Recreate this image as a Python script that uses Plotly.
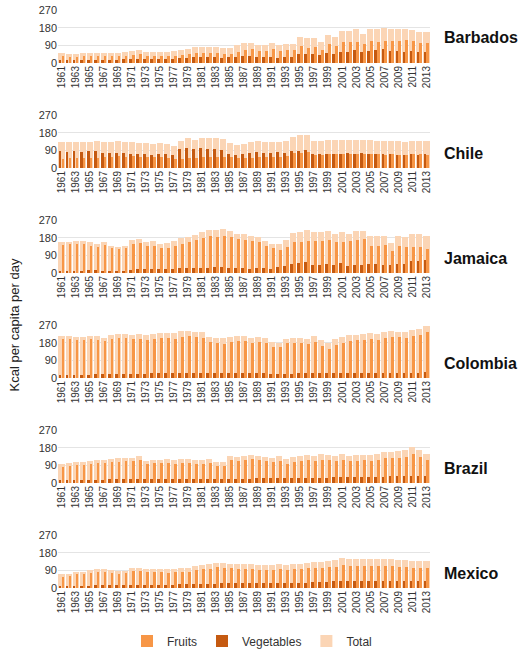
import plotly.graph_objects as go

years = list(range(1961, 2014))
countries = ["Barbados", "Chile", "Jamaica", "Colombia", "Brazil", "Mexico"]

barbados_veg = [15,14,14,15,15,15,15,16,16,18, 20,20,20,18,20,22,22,25,28,30, 32,30,30,28,30,32,34,34,30,30,
                32,28,30,32,45,48,45,40,50,45, 58,55,65,55,62,65,70,60,62,58,60,58,56]
barbados_fruit = [35,33,33,34,34,34,34,35,36,38, 42,44,38,36,36,36,38,42,45,50, 50,50,50,48,48,58,68,70,62,60,
                  72,62,65,65,85,78,80,65,95,85, 105,108,108,95,110,108,110,112,112,115,110,100,100]
barbados_total = [50,47,47,49,49,49,49,51,52,56, 62,64,58,54,56,58,60,67,73,80, 82,80,80,76,78,90,102,104,92,90,
                  104,90,95,97,130,126,125,105,145,130, 163,163,173,150,172,173,180,172,174,173,170,158,156]

chile_veg = [85,80,85,82,85,85,78,75,75,75, 72,70,70,68,70,70,65,95,100,95, 100,95,95,92,70,68,72,78,82,75,
             78,80,78,85,88,90,72,70,72,70, 72,75,72,75,72,70,72,70,68,65,70,68,72]
chile_fruit = [48,50,50,50,50,52,55,55,62,58, 60,58,55,55,55,52,45,45,52,50, 55,58,58,55,55,50,50,52,58,58,
               55,55,60,75,78,80,68,68,70,72, 72,70,72,70,72,70,68,70,68,65,70,72,68]
chile_total = [133,130,135,132,135,137,133,130,137,133, 132,128,125,123,125,122,110,140,152,145,
               155,153,153,147,125,118,122,130,140,133, 133,135,138,160,166,170,140,138,142,142,
               144,145,144,145,144,140,140,140,136,130,140,140,140]

jamaica_veg = [10,8,10,12,14,14,12,10,8,10, 15,18,18,20,20,22,22,25,25,25, 28,25,30,32,28,25,25,22,25,25,
               22,30,38,45,50,55,42,40,45,40, 50,35,42,42,45,48,42,40,45,45,62,62,66]
jamaica_fruit = [145,150,150,150,140,135,145,125,120,128, 150,155,140,140,128,128,140,150,158,168,
                 180,190,185,190,182,172,170,165,158,138, 125,118,130,158,158,162,165,165,168,158,
                 158,162,170,172,140,140,145,112,140,135,135,135,122]
jamaica_total = [157,160,162,164,156,150,158,137,130,140, 168,175,160,162,150,152,164,177,185,195,
                 210,218,217,223,212,200,198,190,185,165, 150,150,168,205,210,219,210,207,215,200,
                 210,200,214,216,187,190,188,155,187,182,199,199,190]

colombia_veg = [15,15,15,15,16,18,18,20,20,20, 22,22,22,24,25,25,28,28,28,28, 28,26,26,28,28,28,26,26,25,25,
                22,20,20,22,24,26,28,28,28,28, 28,28,28,28,28,28,28,28,28,28,28,28,30]
colombia_fruit = [200,198,196,194,198,196,188,200,202,205, 198,200,196,200,202,205,200,210,212,208,
                  205,185,180,175,182,188,190,180,185,180, 160,160,178,180,178,172,185,165,150,170,
                  180,190,192,195,200,195,205,210,208,205,215,220,235]
colombia_total = [215,213,211,209,214,214,206,220,222,225, 220,222,218,224,227,230,228,238,240,236,
                  233,211,206,203,210,216,216,206,210,205, 182,180,198,202,202,198,213,193,178,198,
                  208,218,220,223,228,223,233,238,236,233,243,248,265]

brazil_veg = [15,15,15,16,16,16,17,18,18,18, 18,20,18,18,18,18,20,20,20,20, 20,20,20,20,22,22,22,22,24,24,
              24,24,25,25,26,26,28,28,28,30, 30,30,30,30,32,32,32,34,34,35,36,35,34]
brazil_fruit = [82,88,92,92,95,100,100,105,108,110, 110,118,95,100,100,102,98,100,100,98,
                98,100,88,85,115,110,118,120,115,110, 105,112,98,108,112,118,112,118,115,110,
                118,110,112,115,112,118,125,125,128,132,146,135,115]
brazil_total = [97,103,107,108,111,116,117,123,126,128, 128,138,113,118,118,120,118,120,120,118,
                118,120,108,105,137,132,140,142,139,134, 129,136,123,133,138,144,140,146,143,140,
                148,140,142,145,144,150,157,159,162,167,182,170,149]

mexico_veg = [12,12,12,12,12,13,13,13,14,14, 15,15,16,16,16,17,17,18,18,20, 20,22,22,24,24,25,25,25,26,26,
              26,26,27,28,28,28,30,30,32,34, 36,36,38,38,38,38,38,36,36,36,36,36,36]
mexico_fruit = [58,60,70,72,78,84,82,78,72,75, 88,86,82,80,80,78,80,82,84,90, 95,98,105,102,100,95,98,95,92,90,
                92,95,92,95,95,100,100,102,105,108, 115,112,112,112,112,110,112,112,105,105,102,100,102]
mexico_total = [70,72,82,84,90,97,95,91,86,89, 103,101,98,96,96,95,97,100,102,110,
                115,120,127,126,124,120,123,120,118,116, 118,121,119,123,123,128,130,132,137,142,
                151,148,150,150,150,148,150,148,141,141,138,136,138]

data = {
    "Barbados": (barbados_fruit, barbados_veg, barbados_total),
    "Chile": (chile_fruit, chile_veg, chile_total),
    "Jamaica": (jamaica_fruit, jamaica_veg, jamaica_total),
    "Colombia": (colombia_fruit, colombia_veg, colombia_total),
    "Brazil": (brazil_fruit, brazil_veg, brazil_total),
    "Mexico": (mexico_fruit, mexico_veg, mexico_total),
}
y_ticks = [0, 90, 180, 270]

C_FRUIT = "#F79646"
C_VEG = "#C55A11"
C_TOTAL = "#FBD5B5"
FONT = "Liberation Sans, Arial, sans-serif"

W, H = 518, 658
ML, MT = 58, 10
PLOT_R, PLOT_B = 430, 588
MR = W - PLOT_R
MB = H - PLOT_B
PH = H - MT - MB
PW = W - ML - MR
STEP, PANEL = 105, 53

fig = go.Figure()
layout = {}
annotations = []
label_y = {"Barbados": 128}

for i, c in enumerate(countries):
    fruit, veg, total = data[c]
    n = "" if i == 0 else str(i + 1)
    xa, ya = "x" + n, "y" + n
    show = i == 0
    fig.add_trace(go.Bar(x=years, y=total, name="Total", marker_color=C_TOTAL,
                         marker_line_width=0,
                         width=0.86, offset=-0.43, xaxis=xa, yaxis=ya,
                         showlegend=show, legendrank=3, legendgroup="t"))
    fig.add_trace(go.Bar(x=years, y=veg, name="Vegetables", marker_color=C_VEG,
                         marker_line_width=0,
                         width=0.4, offset=-0.41, xaxis=xa, yaxis=ya,
                         showlegend=show, legendrank=2, legendgroup="v"))
    fig.add_trace(go.Bar(x=years, y=fruit, name="Fruits", marker_color=C_FRUIT,
                         marker_line_width=0,
                         width=0.4, offset=0.0, xaxis=xa, yaxis=ya,
                         showlegend=show, legendrank=1, legendgroup="f"))
    top = 1 - (STEP * i) / PH
    bot = 1 - (STEP * i + PANEL) / PH
    layout["xaxis" + n] = dict(domain=[0, 1], anchor=ya, range=[1960.5, 2013.5],
                               tickmode="linear", tick0=1961, dtick=2, tickangle=-90,
                               showgrid=False, zeroline=False, showline=False, ticks="",
                               automargin=False,
                               tickfont=dict(size=10, color="#333", family=FONT))
    layout["yaxis" + n] = dict(domain=[max(bot, 0), min(top, 1)], anchor=xa, range=[0, 270],
                               tickvals=y_ticks, showgrid=True, gridcolor="#e4e4e4",
                               gridwidth=1, zeroline=False, showline=False, ticks="",
                               automargin=False,
                               tickfont=dict(size=11, color="#333", family=FONT))
    annotations.append(dict(text="<b>" + c + "</b>", xref="paper", yref=ya,
                            x=(442 - ML) / PW, y=label_y.get(c, 75),
                            xanchor="left", yanchor="middle",
                            showarrow=False, font=dict(size=16, color="#111", family=FONT)))

annotations.append(dict(text="Kcal per capita per day", xref="paper", yref="paper",
                        x=(4 - ML) / PW, y=1 - (325 - MT) / PH,
                        xanchor="left", yanchor="middle", textangle=-90, showarrow=False,
                        font=dict(size=13, color="#222", family=FONT)))

fig.update_layout(
    template="none",
    width=W, height=H, barmode="overlay", bargap=0,
    margin=dict(l=ML, r=MR, t=MT, b=MB, autoexpand=False),
    paper_bgcolor="white", plot_bgcolor="white",
    font=dict(family=FONT),
    annotations=annotations,
    hovermode=False,
    legend=dict(orientation="h", x=(252 - ML) / PW, xanchor="center",
                y=-(641 - (H - MB)) / PH,
                yanchor="middle", font=dict(size=12, color="#333", family=FONT),
                itemwidth=30, traceorder="normal"),
    **layout,
)

fig.write_html(
    "out.html",
    config={"displayModeBar": False},
    post_script="document.body.style.margin='0';document.body.style.padding='0';"
                "document.body.style.overflow='hidden';"
                "document.documentElement.style.overflow='hidden';",
)
